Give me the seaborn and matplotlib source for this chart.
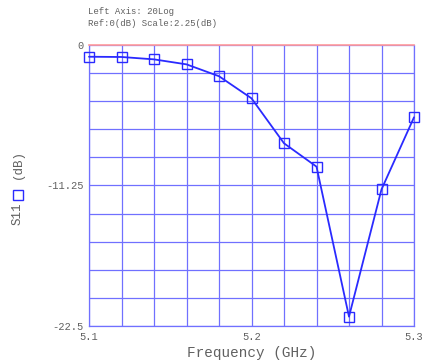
import numpy as np
import pandas as pd
import matplotlib
matplotlib.use("Agg")
import matplotlib.pyplot as plt
import seaborn as sns
from matplotlib.lines import Line2D

# Measured return loss
freq_ghz = [5.10, 5.12, 5.14, 5.16, 5.18, 5.20, 5.22, 5.24, 5.26, 5.28, 5.30]
s11_db = [-0.94, -0.96, -1.15, -1.55, -2.5, -4.27, -7.87, -9.74, -21.75, -11.56, -5.79]

y_labels = ["-22.5", "-11.25", "0"]
x_labels = ["5.1", "5.2", "5.3"]

grid_blue = "#7070ff"
line_blue = "#2a2aff"
text_gray = "#606060"
font = "Liberation Mono"

sns.set_style("white")
plt.rcParams["font.family"] = [font, "DejaVu Sans Mono"]

df = pd.DataFrame({"Frequency": freq_ghz, "S11": s11_db})

fig = plt.figure(figsize=(4.23, 3.63), dpi=100)
ax = fig.add_axes([89 / 423, 1 - 326 / 363, 325 / 423, 281 / 363])

sns.lineplot(data=df, x="Frequency", y="S11", ax=ax, color=line_blue,
             linewidth=1.3, marker="s", markersize=7,
             markerfacecolor="none", markeredgecolor=line_blue,
             markeredgewidth=1.0, zorder=5, clip_on=False)

ax.set_xlim(5.1, 5.3)
ax.set_ylim(-22.5, 0)

xt = np.linspace(5.1, 5.3, 11)
yt = np.linspace(-22.5, 0, 11)
ax.set_xticks(xt)
ax.set_yticks(yt)
ax.set_xticklabels([x_labels[i // 5] if i % 5 == 0 else "" for i in range(11)])
ax.set_yticklabels([y_labels[i // 5] if i % 5 == 0 else "" for i in range(11)])
ax.grid(True, color=grid_blue, linewidth=0.9)
ax.tick_params(axis="y", length=3, color=grid_blue, labelsize=7.5,
               labelcolor=text_gray, pad=1)
ax.tick_params(axis="x", length=0, labelsize=7.5, labelcolor=text_gray, pad=4)

for s in ["left", "bottom", "right"]:
    ax.spines[s].set_color(grid_blue)
    ax.spines[s].set_linewidth(0.9)
ax.spines["top"].set_color("#ff9a9a")
ax.spines["top"].set_linewidth(1.2)

ax.set_xlabel("Frequency (GHz)", fontsize=10.4, color=text_gray, labelpad=3)
ax.set_ylabel("")

# y-axis title with a legend square between the words
fig.text(18 / 423, 1 - 225 / 363, "S11", rotation=90, fontsize=9,
         color=text_gray, ha="center", va="bottom")
fig.add_artist(Line2D([18 / 423], [1 - 195 / 363], marker="s", markersize=7,
                      markerfacecolor="none", markeredgecolor=line_blue,
                      markeredgewidth=1.0, transform=fig.transFigure))
fig.text(18 / 423, 1 - 179 / 363, "(dB)", rotation=90, fontsize=9,
         color=text_gray, ha="center", va="bottom")

fig.text(88 / 423, 1 - 11 / 363, "Left Axis: 20Log", fontsize=6.5,
         color=text_gray, ha="left", va="center")
fig.text(88 / 423, 1 - 23 / 363, "Ref:0(dB) Scale:2.25(dB)", fontsize=6.5,
         color=text_gray, ha="left", va="center")

fig.savefig("out.png", dpi=100, facecolor="white")
